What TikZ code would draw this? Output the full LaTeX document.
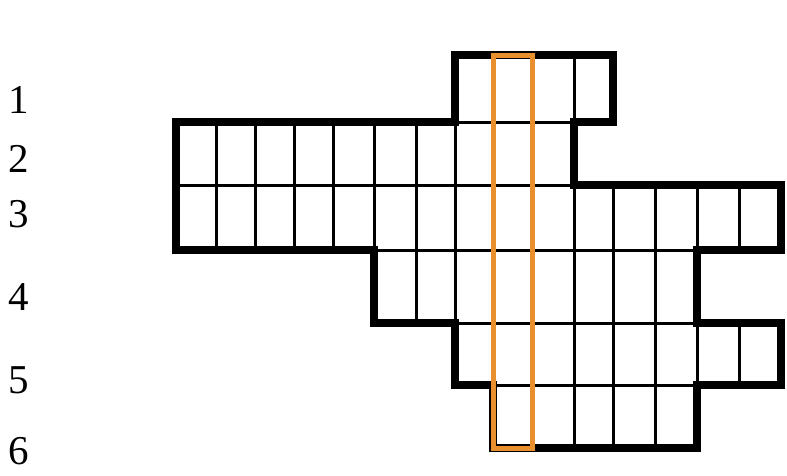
\documentclass[tikz,border=0pt]{standalone}
\usepackage{fontspec}
\setmainfont{Liberation Serif}
\definecolor{hl}{HTML}{E8902E}
\begin{document}
\begin{tikzpicture}[x=1pt,y=-1pt,
  cell/.style={draw=black,line width=3pt},
  outline/.style={draw=black,line width=7.5pt,line join=miter},
  hilite/.style={draw=hl,line width=5pt},
  lab/.style={font=\fontsize{41}{41}\selectfont,anchor=base,inner sep=0pt}]
\useasboundingbox (0,0) rectangle (787,475);
% cells
\foreach \a/\b in {455/493,493/532,532/574,574/613}
  \draw[cell] (\a,55) rectangle (\b,122);
\foreach \a/\b in {176/216,216/255,255/294,294/333,333/374,374/416,416/455,455/493,493/532,532/574}
  \draw[cell] (\a,122) rectangle (\b,185);
\foreach \a/\b in {176/216,216/255,255/294,294/333,333/374,374/416,416/455,455/493,493/532,532/574,574/613,613/655,655/697,697/739,739/781}
  \draw[cell] (\a,185) rectangle (\b,250);
\foreach \a/\b in {374/416,416/455,455/493,493/532,532/574,574/613,613/655,655/697}
  \draw[cell] (\a,250) rectangle (\b,323);
\foreach \a/\b in {455/493,493/532,532/574,574/613,613/655,655/697,697/739,739/781}
  \draw[cell] (\a,323) rectangle (\b,385);
\foreach \a/\b in {493/532,532/574,574/613,613/655,655/697}
  \draw[cell] (\a,385) rectangle (\b,448);
% outline
\draw[outline] (455,55) -- (613,55) -- (613,122) -- (574,122) -- (574,185) -- (781,185)
  -- (781,250) -- (697,250) -- (697,323) -- (781,323) -- (781,385) -- (697,385)
  -- (697,448) -- (493,448) -- (493,385) -- (455,385) -- (455,323) -- (374,323)
  -- (374,250) -- (176,250) -- (176,122) -- (455,122) -- cycle;
% highlighted column
\draw[hilite] (493,55) rectangle (532,448);
% row numbers
\node[lab] (r1) at (19,113) {1};
\node[lab] (r2) at (19,172) {2};
\node[lab] (r3) at (19,227) {3};
\node[lab] (r4) at (19,310) {4};
\node[lab] (r5) at (19,393) {5};
\node[lab] (r6) at (19,464) {6};
\end{tikzpicture}
\end{document}
